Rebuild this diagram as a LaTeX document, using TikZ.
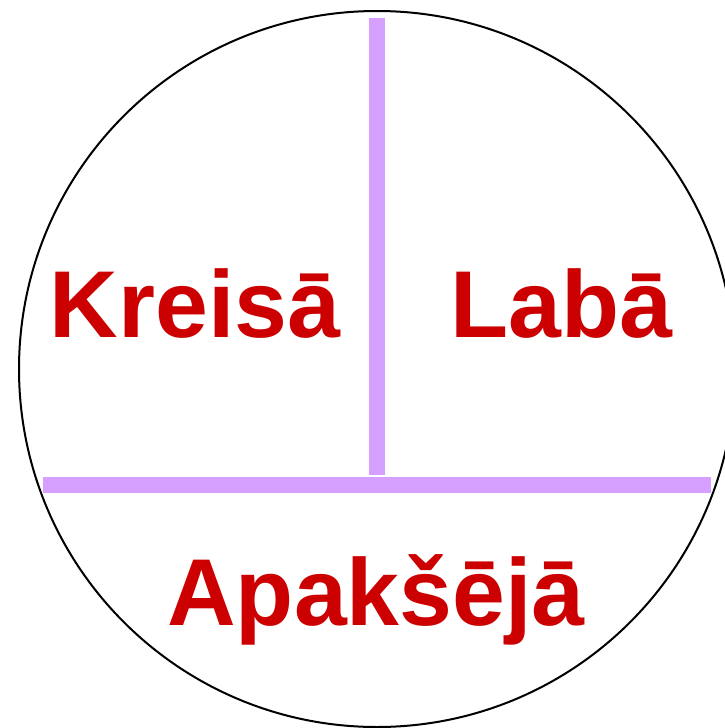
\documentclass[tikz,border=0pt]{standalone}
\usepackage{fontspec}
\setmainfont{Liberation Sans}
\definecolor{barviolet}{RGB}{213,160,255}
\definecolor{labelred}{RGB}{204,0,0}
\begin{document}
\begin{tikzpicture}[x=1pt,y=-1pt,
  bar/.style={barviolet,line width=16pt},
  lbl/.style={inner sep=0pt,anchor=base,text=labelred,font=\fontsize{95}{100}\selectfont\bfseries}]
\useasboundingbox (0,0) rectangle (725,728);
\begin{scope}
\clip (0,0) rectangle (725,728);
\node[circle,draw=black,line width=2pt,minimum size=716pt,inner sep=0pt] (ring) at (377,369) {};
\end{scope}
\coordinate (vtop) at (377,18);
\coordinate (vbot) at (377,475);
\coordinate (hleft) at (43,485);
\coordinate (hright) at (711,485);
\draw[bar] (vtop) -- (vbot);
\draw[bar] (hleft) -- (hright);
\node[lbl] (left) at (195,337) {Kreisā};
\node[lbl] (right) at (561,337) {Labā};
\node[lbl] (bottom) at (376,625) {Apakšējā};
\end{tikzpicture}
\end{document}
